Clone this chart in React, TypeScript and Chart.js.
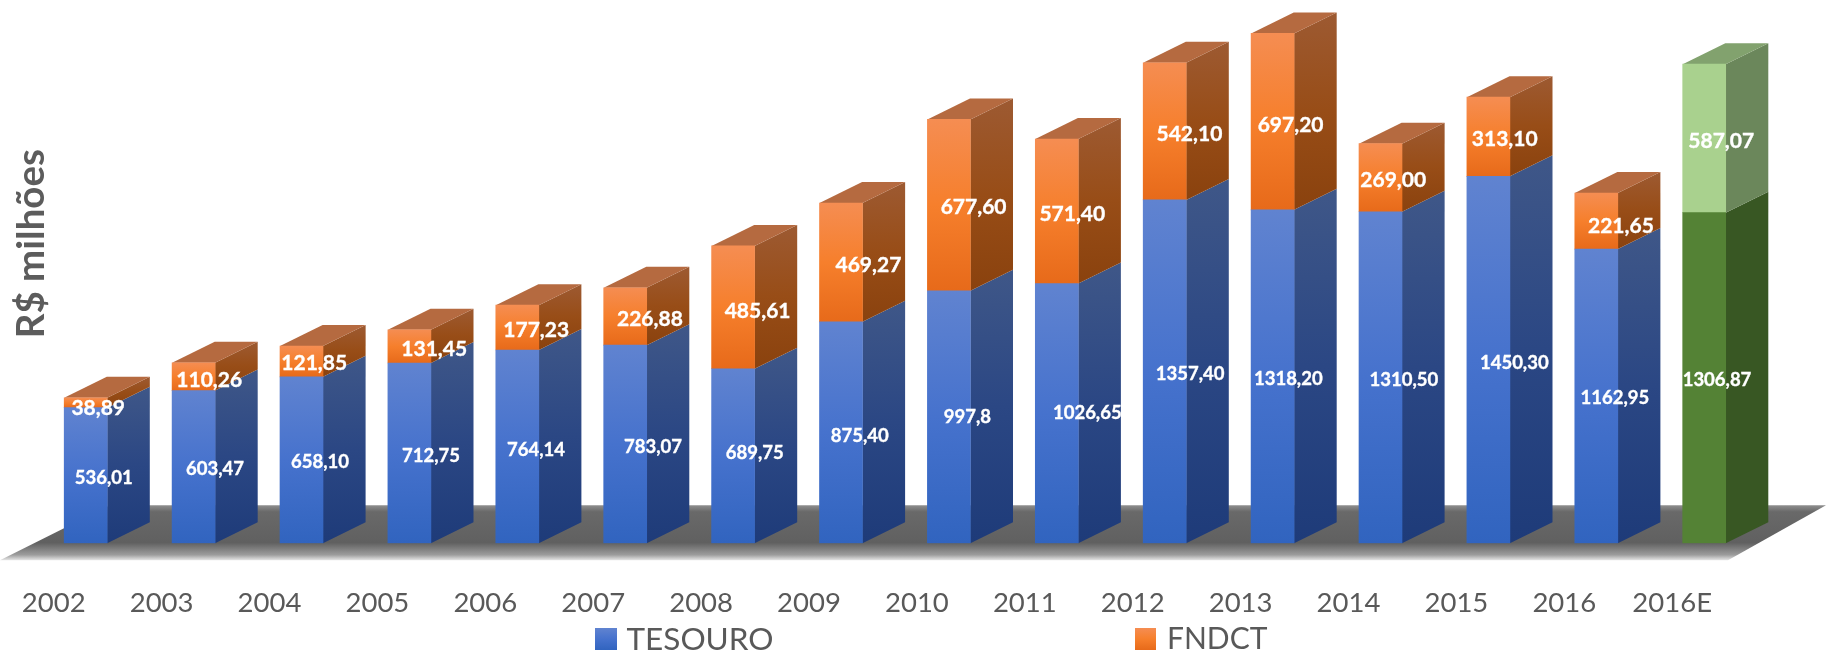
import React, { useEffect, useRef } from "react";
import { Chart, registerables } from "chart.js";

Chart.register(...registerables);

const years = ["2002","2003","2004","2005","2006","2007","2008","2009","2010","2011","2012","2013","2014","2015","2016","2016E"];
const tesouro = [536.01,603.47,658.10,712.75,764.14,783.07,689.75,875.40,997.8,1026.65,1357.40,1318.20,1310.50,1450.30,1162.95,1306.87];
const fndct = [38.89,110.26,121.85,131.45,177.23,226.88,485.61,469.27,677.60,571.40,542.10,697.20,269.00,313.10,221.65,587.07];
const tesouroText = ["536,01","603,47","658,10","712,75","764,14","783,07","689,75","875,40","997,8","1026,65","1357,40","1318,20","1310,50","1450,30","1162,95","1306,87"];
const fndctText = ["38,89","110,26","121,85","131,45","177,23","226,88","485,61","469,27","677,60","571,40","542,10","697,20","269,00","313,10","221,65","587,07"];

// hand-placed label offsets, as in the original chart
const tesouroNudgeX = [18,21.4,18.5,21.6,18.7,27.8,21.6,18.8,18.5,30.5,25.5,15.7,23.4,25.9,18.6,12.8];
const tesouroNudgeY = [1.2,1.3,1.3,2,2,1.3,-4.3,2,-1.5,-1.7,1.7,1.8,1.8,1.9,1,1.3];
const fndctNudgeX = [12.5,15.6,12.7,24.8,18.9,24.7,24.5,27.4,24.7,15.5,24.7,18,12.7,16.3,24.6,17];
const fndctNudgeY = [4.9,2.4,1.3,1.8,2,2,2.5,2,1.5,2,2,2.4,2,1.7,4.5,2];

const W = 1826, H = 657;
const DEPTH_X = 42.6, DEPTH_Y = 21;
const FONT = "Lato, Carlito, sans-serif";
const lastIndex = years.length - 1;

function vGrad(ctx: CanvasRenderingContext2D, y0: number, y1: number, stops: string[]) {
  if (!Number.isFinite(y0) || !Number.isFinite(y1)) return stops[stops.length - 1];
  const g = ctx.createLinearGradient(0, y0, 0, y1);
  stops.forEach((s, i) => g.addColorStop(i / (stops.length - 1), s));
  return g;
}

const BLUE_FRONT = ["#6083d0", "#4672cd", "#3164bf"];
const ORANGE_FRONT = ["#f58d52", "#f67f2c", "#e76a1a"];

function segment(c: any) {
  const { chart, dataIndex, datasetIndex } = c;
  const y = chart.scales.y;
  if (dataIndex === lastIndex) return datasetIndex === 0 ? "#548235" : "#a9d18e";
  if (!y) return "#3164bf";
  const mid = y.getPixelForValue(tesouro[dataIndex]);
  return datasetIndex === 0
    ? vGrad(chart.ctx, mid, y.getPixelForValue(0), BLUE_FRONT)
    : vGrad(chart.ctx, y.getPixelForValue(tesouro[dataIndex] + fndct[dataIndex]), mid, ORANGE_FRONT);
}

const scene3d = {
  id: "scene3d",
  beforeDatasetsDraw(chart: any) {
    const { ctx, scales } = chart;
    const base = scales.y.getPixelForValue(0);
    const backY = base - 38, frontY = base + 17;
    ctx.save();
    const floor = ctx.createLinearGradient(0, backY, 0, frontY);
    floor.addColorStop(0, "#8e8e8e");
    floor.addColorStop(0.12, "#696969");
    floor.addColorStop(0.68, "#606060");
    floor.addColorStop(0.9, "#9c9c9c");
    floor.addColorStop(1, "#e6e6e6");
    ctx.fillStyle = floor;
    ctx.beginPath();
    ctx.moveTo(0, frontY);
    ctx.lineTo(110, backY);
    ctx.lineTo(W, backY);
    ctx.lineTo(1728, frontY);
    ctx.closePath();
    ctx.fill();

    const low = chart.getDatasetMeta(0).data;
    const high = chart.getDatasetMeta(1).data;
    low.forEach((el: any, i: number) => {
      const up = high[i];
      const right = el.x + el.width / 2;
      const left = el.x - el.width / 2;
      const green = i === lastIndex;
      const side = (top: number, bottom: number, fill: any) => {
        ctx.fillStyle = fill;
        ctx.beginPath();
        ctx.moveTo(right, top);
        ctx.lineTo(right + DEPTH_X, top - DEPTH_Y);
        ctx.lineTo(right + DEPTH_X, bottom - DEPTH_Y);
        ctx.lineTo(right, bottom);
        ctx.closePath();
        ctx.fill();
      };
      side(el.y, el.base, green ? "#385723" : vGrad(ctx, el.y - DEPTH_Y, el.base, ["#3f5788", "#2b4784", "#1e3b79"]));
      side(up.y, up.base, green ? "#6b875b" : vGrad(ctx, up.y - DEPTH_Y, up.base, ["#9d5a32", "#984d17", "#8a420e"]));
      ctx.fillStyle = green ? "#82a26e" : "#b56a40";
      ctx.beginPath();
      ctx.moveTo(left, up.y);
      ctx.lineTo(left + DEPTH_X, up.y - DEPTH_Y);
      ctx.lineTo(right + DEPTH_X, up.y - DEPTH_Y);
      ctx.lineTo(right, up.y);
      ctx.closePath();
      ctx.fill();
    });
    ctx.restore();
  },
  afterDatasetsDraw(chart: any) {
    const { ctx } = chart;
    ctx.save();
    ctx.fillStyle = "#ffffff";
    ctx.strokeStyle = "#ffffff";
    ctx.lineWidth = 0.35;
    ctx.textAlign = "center";
    ctx.textBaseline = "middle";
    ctx.font = `bold 18.5px ${FONT}`;
    chart.getDatasetMeta(0).data.forEach((el: any, i: number) => {
      const x = el.x + tesouroNudgeX[i], y = (el.y + el.base) / 2 + tesouroNudgeY[i] + 1;
      ctx.fillText(tesouroText[i], x, y);
      ctx.strokeText(tesouroText[i], x, y);
    });
    ctx.font = `bold 21px ${FONT}`;
    chart.getDatasetMeta(1).data.forEach((el: any, i: number) => {
      const x = el.x + fndctNudgeX[i], y = (el.y + el.base) / 2 + fndctNudgeY[i] + 1;
      ctx.fillText(fndctText[i], x, y);
      ctx.strokeText(fndctText[i], x, y);
    });

    // y title
    ctx.fillStyle = "#5c5c5c";
    ctx.font = `bold 38.5px ${FONT}`;
    ctx.textBaseline = "alphabetic";
    ctx.save();
    ctx.translate(44, 243.7);
    ctx.rotate(-Math.PI / 2);
    ctx.fillText("R$ milhões", 0, 0);
    ctx.restore();

    // legend
    const items = [
      { x: 595, size: 22, gap: 31.5, font: 31.5, text: chart.data.datasets[0].label, stops: BLUE_FRONT },
      { x: 1135, size: 21, gap: 32, font: 30, text: chart.data.datasets[1].label, stops: ORANGE_FRONT },
    ];
    ctx.textBaseline = "middle";
    ctx.textAlign = "left";
    items.forEach((it) => {
      ctx.fillStyle = vGrad(ctx, 628, 650, it.stops);
      ctx.fillRect(it.x, 628, it.size, 22);
      ctx.fillStyle = "#595959";
      ctx.font = `${it.font}px ${FONT}`;
      ctx.fillText(it.text, it.x + it.gap, 639.5);
    });
    ctx.restore();
  },
};

export default function App() {
  const ref = useRef<HTMLCanvasElement>(null);
  useEffect(() => {
    const chart = new Chart(ref.current!, {
      type: "bar",
      data: {
        labels: years,
        datasets: [
          { label: "TESOURO", data: tesouro, backgroundColor: segment, borderWidth: 0, barThickness: 43 },
          { label: "FNDCT", data: fndct, backgroundColor: segment, borderWidth: 0, barThickness: 43 },
        ],
      },
      options: {
        animation: false,
        responsive: false,
        events: [],
        layout: { padding: { left: 31.75, right: 67.85, top: 12, bottom: 0 } },
        plugins: { legend: { display: false }, tooltip: { enabled: false }, title: { display: false } },
        scales: {
          x: {
            stacked: true,
            grid: { display: false },
            border: { display: false },
            afterFit: (s: any) => { s.height = 113.7; },
            ticks: {
              autoSkip: false,
              maxRotation: 0,
              padding: 35,
              labelOffset: -32,
              color: "#595959",
              font: { family: FONT, size: 27.5 },
            },
          },
          y: { stacked: true, display: false, min: 0, max: 2100 },
        },
      },
      plugins: [scene3d],
    } as any);
    return () => chart.destroy();
  }, []);
  return (
    <div style={{ position: "fixed", left: 0, top: 0, width: W, height: H, background: "#fff" }}>
      <canvas ref={ref} width={W} height={H} style={{ display: "block" }} />
    </div>
  );
}
